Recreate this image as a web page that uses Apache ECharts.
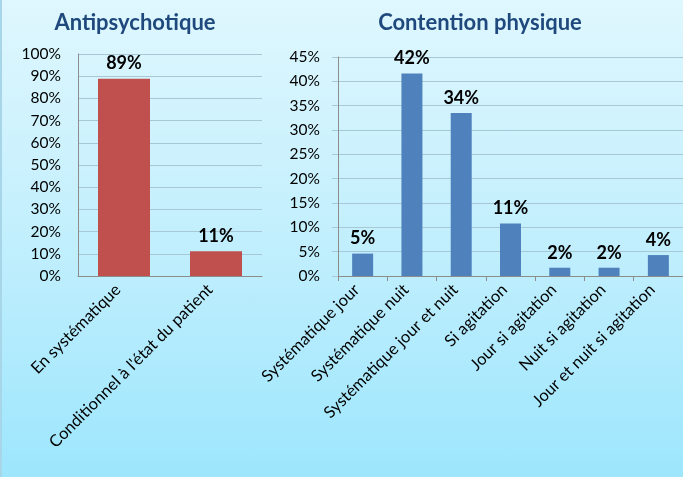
<!DOCTYPE html>
<html>
<head>
<meta charset="utf-8">
<script src="https://cdn.jsdelivr.net/npm/echarts@6/dist/echarts.min.js"></script>
<style>
html,body{margin:0;padding:0;}
#main{width:683px;height:477px;background:linear-gradient(to bottom,#dff7fe 0%,#c2effd 50%,#9de6fd 100%);border-left:2px solid #a6d6e8;box-sizing:border-box;}
</style>
</head>
<body>
<div id="main"></div>
<script>
// Antipsychotique
var antiCategories=['En systématique','Conditionnel à l\'état du patient'];
var antiValues=[88.9,11.1];
// Contention physique
var contCategories=['Systématique jour','Systématique nuit','Systématique jour et nuit','Si agitation','Jour si agitation','Nuit si agitation','Jour et nuit si agitation'];
var contValues=[4.6,41.6,33.5,10.8,1.7,1.7,4.3];

var font='Lato';
var gridColor='#a9c8d6';
var axisColor='#8c8c8c';

function pctLabel(p){
    return Math.round(p.value)+'%';
}

var myChart=echarts.init(document.getElementById('main'));
var option={
    textStyle:{fontFamily:font},
    title:[
        {text:'Antipsychotique',left:128,top:7,textAlign:'center',
         textStyle:{fontFamily:font,fontSize:22,fontWeight:'bold',color:'#1f497d'}},
        {text:'Contention physique',left:473,top:7,textAlign:'center',
         textStyle:{fontFamily:font,fontSize:22,fontWeight:'bold',color:'#1f497d'}}
    ],
    grid:[
        {left:76,right:421,top:54,bottom:201},
        {left:336,right:-12,top:57,bottom:201}
    ],
    xAxis:[
        {type:'category',gridIndex:0,data:antiCategories,
         axisLine:{lineStyle:{color:axisColor}},axisTick:{show:false},
         axisLabel:{rotate:45,fontSize:16.5,color:'#000',margin:17,interval:0,verticalAlign:'bottom'}},
        {type:'category',gridIndex:1,data:contCategories,
         axisLine:{lineStyle:{color:axisColor}},
         axisTick:{show:true,length:5,lineStyle:{color:axisColor}},
         axisLabel:{rotate:45,fontSize:16.5,color:'#000',margin:17,interval:0,verticalAlign:'bottom'}}
    ],
    yAxis:[
        {type:'value',gridIndex:0,min:0,max:100,interval:10,
         axisLine:{show:true,lineStyle:{color:axisColor}},axisTick:{show:false},
         axisLabel:{formatter:'{value}%',fontSize:15.5,color:'#000',margin:17},
         splitLine:{lineStyle:{color:gridColor}}},
        {type:'value',gridIndex:1,min:0,max:45,interval:5,
         axisLine:{show:true,lineStyle:{color:axisColor}},
         axisTick:{show:true,length:6,lineStyle:{color:gridColor}},
         axisLabel:{formatter:'{value}%',fontSize:15.5,color:'#000',margin:18},
         splitLine:{lineStyle:{color:gridColor}}}
    ],
    series:[
        {type:'bar',xAxisIndex:0,yAxisIndex:0,data:antiValues,barWidth:52,
         itemStyle:{color:'#c0504d'},
         label:{show:true,position:'top',distance:6,formatter:pctLabel,
                fontSize:18,fontWeight:'bold',color:'#000'}},
        {type:'bar',xAxisIndex:1,yAxisIndex:1,data:contValues,barWidth:21,
         itemStyle:{color:'#4f81bd'},
         label:{show:true,position:'top',distance:6,formatter:pctLabel,
                fontSize:18,fontWeight:'bold',color:'#000'}}
    ]
};
myChart.setOption(option);
</script>
</body>
</html>
